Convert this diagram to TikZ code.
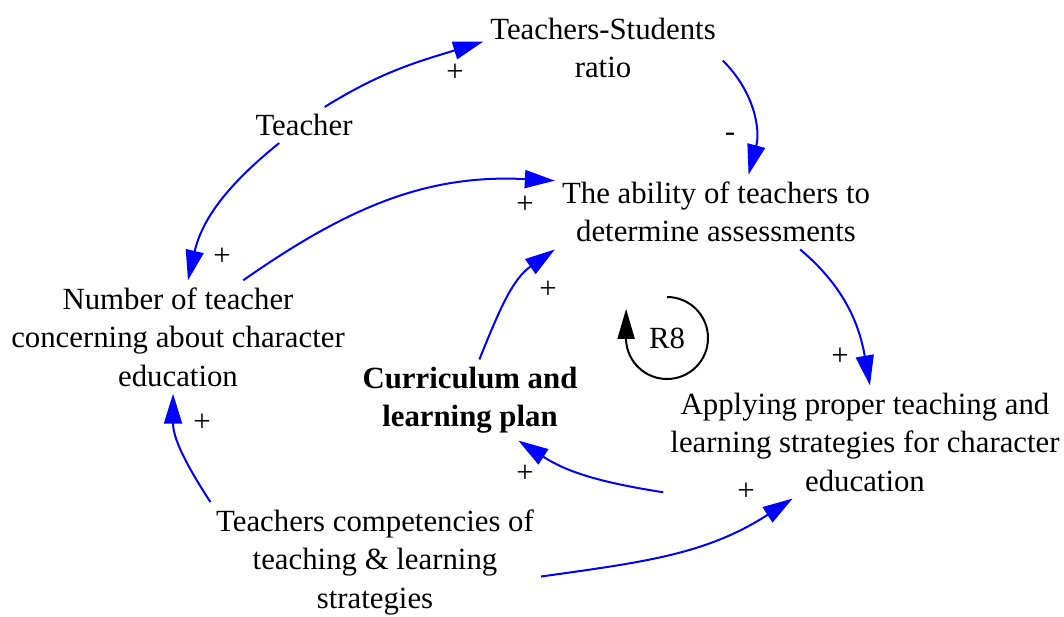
\documentclass[tikz,border=0pt]{standalone}
\usepackage{fontspec}
\setmainfont{Liberation Serif}
\usepackage{tikz}
\usetikzlibrary{arrows.meta}
\tikzstyle{var} = [align=center, inner sep=7pt,
    font=\fontsize{30.8}{38.5}\selectfont]
\tikzstyle{sign} = [inner sep=0pt, font=\fontsize{30.8}{38.5}\selectfont]
\tikzstyle{link} = [draw=blue, line width=2pt,
    -{Triangle[length=30pt,width=18pt]}]
\tikzstyle{loopsym} = [draw=black, line width=2pt,
    -{Triangle[length=30pt,width=17pt]}]

\begin{document}
\begin{tikzpicture}[x=1pt, y=1pt]
    \useasboundingbox (0,0) rectangle (1064,-617);

    % % % % % % % % % % % % % % % % % % % % % % %
    % Variables
    % % % % % % % % % % % % % % % % % % % % % % %
    \node [var] (tsr) at (603,-48) {Teachers-Students\\ratio};
    \node [var] (teacher) at (304,-125) {Teacher};
    \node [var] (abil) at (716,-212) {The ability of teachers to\\determine assessments};
    \node [var] (num) at (178,-337) {Number of teacher\\concerning about character\\education};
    \node [var, font=\fontsize{30.8}{38.5}\selectfont\bfseries] (cur) at (470,-400)
        {Curriculum and\\learning plan};
    \node [var] (app) at (865,-442) {Applying proper teaching and\\learning strategies for character\\education};
    \node [var] (comp) at (375,-562) {Teachers competencies of\\teaching \& learning\\strategies};

    % loop marker
    \node [sign] (r8) at (667,-338) {R8};
    \draw [loopsym] ([shift={(90:41)}]r8.center)
        arc [start angle=90, end angle=-176, radius=41] -- ++(0,32);

    % % % % % % % % % % % % % % % % % % % % % % %
    % Links
    % % % % % % % % % % % % % % % % % % % % % % %
    \draw [link] (teacher.41) to [out=32, in=197] (tsr.177);
    \draw [link] (tsr.-6) to [out=-45, in=75] (abil.49);
    \draw [link] (teacher.216) to [out=219, in=77] (num.80);
    \draw [link] (num.41) to [out=35, in=177] (abil.169);
    \draw [link] (cur.77) to [out=68, in=215] (abil.south west);
    \draw [link] (abil.-24) to [out=-40, in=100] (app.85);
    \draw [link] (app.194) to [out=171, in=327] (cur.-40);
    \draw [link] (comp.160) to [out=123, in=270] (num.265);
    \draw [link] (comp.-5) to [out=8, in=213] (app.218);

    % polarities
    \node [sign] (s1) at (455,-73) {+};
    \node [sign] (s2) at (730,-137) {-};
    \node [sign] (s3) at (222,-257) {+};
    \node [sign] (s4) at (525,-205) {+};
    \node [sign] (s5) at (548,-290) {+};
    \node [sign] (s6) at (840,-357) {+};
    \node [sign] (s7) at (525,-474) {+};
    \node [sign] (s8) at (202,-423) {+};
    \node [sign] (s9) at (746,-492) {+};

\end{tikzpicture}
\end{document}
